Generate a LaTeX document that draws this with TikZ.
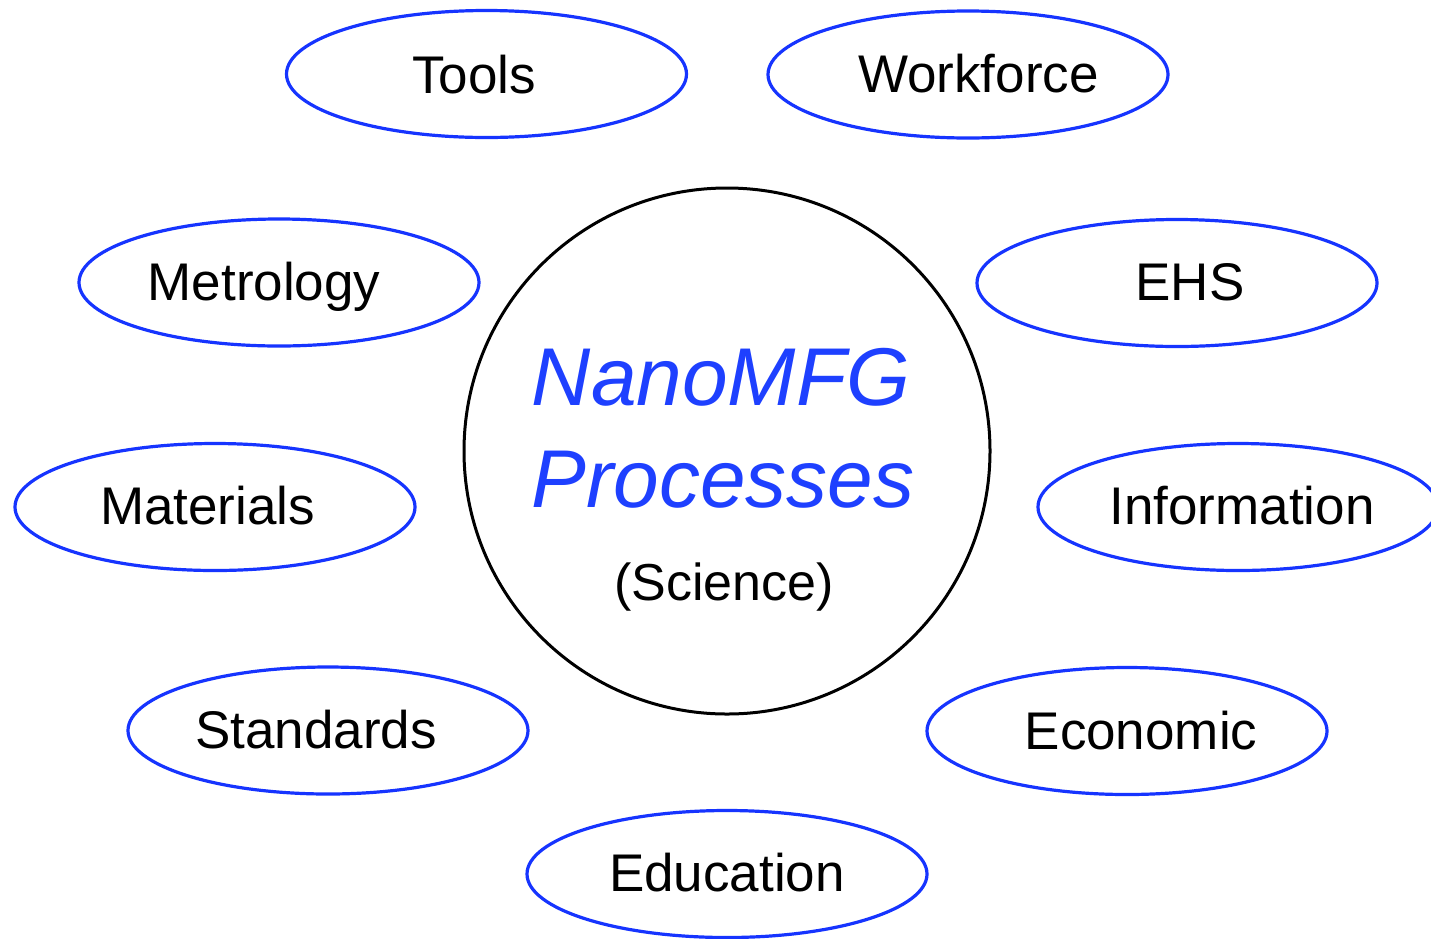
\documentclass[tikz,border=0pt]{standalone}
\usepackage{fontspec}
\setmainfont{Liberation Sans}
\usetikzlibrary{shapes.geometric}
\definecolor{ovalblue}{RGB}{22,52,255}
\definecolor{titleblue}{RGB}{30,64,255}
\begin{document}
\begin{tikzpicture}[x=1pt,y=-1pt,
  oval/.style={draw=ovalblue,line width=3.2pt,ellipse,minimum width=400pt,minimum height=127pt,inner sep=0pt},
  ovallabel/.style={anchor=base,inner sep=0pt,font=\fontsize{53}{63}\selectfont},
  hub/.style={draw=black,line width=3pt,circle,minimum size=526pt,inner sep=0pt},
  hubtitle/.style={anchor=base,inner sep=0pt,text=titleblue,font=\fontsize{82}{98}\selectfont\itshape},
  hubsub/.style={anchor=base,inner sep=0pt,font=\fontsize{52}{62}\selectfont}]
\useasboundingbox (0,0) rectangle (1431,938);
\fill[white] (0,0) rectangle (1431,938);
% central circle
\node[hub] (hub) at (727,451) {};
\node[hubtitle] (t1) at (721,405) {NanoMFG};
\node[hubtitle] (t2) at (723,507) {Processes};
\node[hubsub] (t3) at (724,600) {(Science)};
% ovals
\node[oval] (tools) at (486.5,74) {};
\node[ovallabel] (toolsl) at (474,93) {Tools};
\node[oval] (work) at (968,74.5) {};
\node[ovallabel] (workl) at (978.5,92) {Workforce};
\node[oval] (metro) at (279,282.5) {};
\node[ovallabel] (metrol) at (264,300) {Metrology};
\node[oval] (ehs) at (1177,283) {};
\node[ovallabel] (ehsl) at (1190,300) {EHS};
\node[oval] (mat) at (215,507) {};
\node[ovallabel] (matl) at (207.5,524) {Materials};
\node[oval] (info) at (1238,507) {};
\node[ovallabel] (infol) at (1242,524) {Information};
\node[oval] (std) at (328,730.5) {};
\node[ovallabel] (stdl) at (316,748) {Standards};
\node[oval] (eco) at (1127,731) {};
\node[ovallabel] (ecol) at (1141,749) {Economic};
\node[oval] (edu) at (727,874) {};
\node[ovallabel] (edul) at (727,891) {Education};
\end{tikzpicture}
\end{document}
